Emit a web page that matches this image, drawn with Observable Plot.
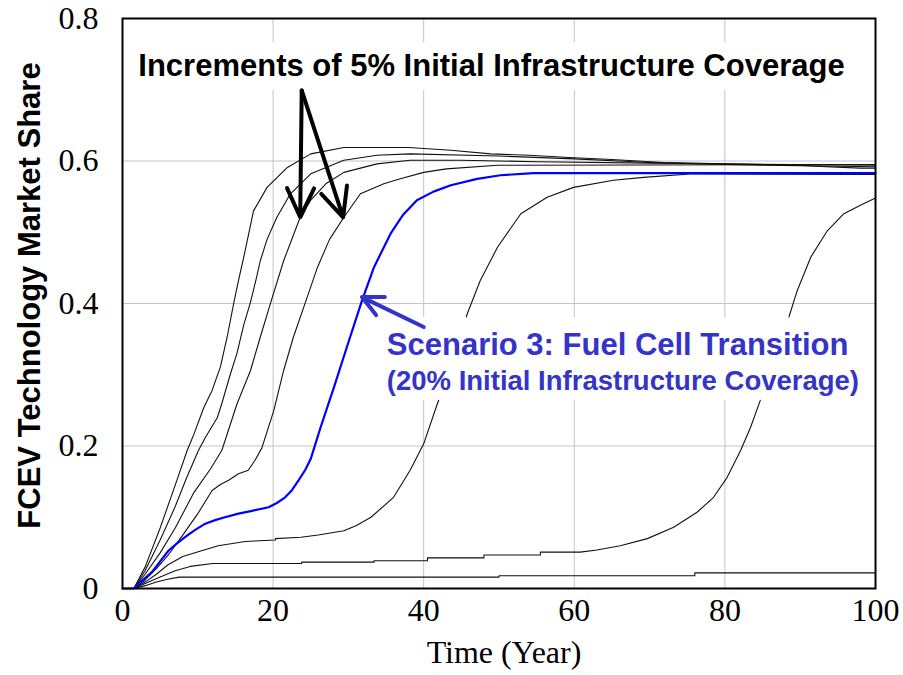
<!DOCTYPE html>
<html><head><meta charset="utf-8">
<script src="https://cdn.jsdelivr.net/npm/d3@7"></script>
<script src="https://cdn.jsdelivr.net/npm/@observablehq/plot@0.6"></script>
<style>
body{margin:0;background:#fff;}
#chart svg{font-family:"Liberation Serif","Times New Roman",serif;}
</style></head><body><div id="chart"></div>
<script>
// Ticks
const xTicks = [0, 20, 40, 60, 80, 100];
const yTicks = [0, 0.2, 0.4, 0.6, 0.8];

// Series: time (year) and FCEV market share, one pair per initial infrastructure coverage
const t05 = [0,1.5,3,4.5,6,7.5,50,50,76,76,100];
const v05 = [0,0,0.004,0.009,0.013,0.016,0.016,0.018,0.018,0.022,0.022];

const t10 = [0,1.5,3,5,7,9,12,23.8,23.8,33.4,33.4,40.5,40.5,48,48,55.5,55.5,60.8,63,66.1,69.7,73.2,76.3,78.5,80.3,82.1,83.4,84.7,86,87.3,88.5,89.6,91.4,93.6,95.8,98,100];
const v10 = [0,0,0.007,0.016,0.025,0.031,0.035,0.035,0.037,0.037,0.039,0.039,0.043,0.043,0.047,0.047,0.051,0.051,0.054,0.06,0.07,0.086,0.107,0.128,0.156,0.194,0.226,0.264,0.305,0.345,0.381,0.418,0.465,0.502,0.526,0.538,0.548];

const t15 = [0,1.5,3,4.5,6,8,10.5,12.7,16.3,20.3,20.3,23.7,26,29.4,31,33,36,38.2,40,41.8,43.3,45.8,47.5,49.8,52.9,56.4,59.9,65.2,69.2,75.8,100];
const v15 = [0,0,0.009,0.02,0.033,0.045,0.053,0.06,0.066,0.068,0.07,0.072,0.075,0.081,0.088,0.1,0.128,0.166,0.203,0.259,0.3,0.386,0.432,0.479,0.526,0.549,0.563,0.573,0.577,0.582,0.581];

const t20 = [0,1.5,2.5,3.9,5,6.1,7.2,8.3,9.6,11,12.3,13.6,15.4,17.2,19.4,20.5,21.6,22.5,23.4,24.3,25,26.3,28.1,29.8,31.8,33.4,35.6,37.3,39.1,41.3,43.6,47.1,50.2,54.6,100];
const v20 = [0,0,0.01,0.023,0.038,0.053,0.063,0.072,0.082,0.091,0.096,0.1,0.105,0.109,0.114,0.12,0.128,0.138,0.152,0.167,0.182,0.226,0.283,0.339,0.404,0.451,0.498,0.525,0.545,0.557,0.566,0.575,0.58,0.583,0.583];

const t25 = [0,1.5,3,4.5,6,8,10,11.9,13,14.1,15.4,16.7,17.6,18.5,20.1,21.4,22.7,24.3,25.9,27.5,29.4,31.6,34.7,36.9,40,43,49.8,100];
const v25 = [0,0,0.012,0.028,0.046,0.075,0.105,0.1375,0.146,0.152,0.161,0.166,0.18,0.197,0.25,0.306,0.353,0.402,0.451,0.49,0.521,0.554,0.568,0.575,0.584,0.589,0.594,0.595];

const t30 = [0,1.5,3,5,7,9.5,11.7,13.2,15.2,17,18.3,19.7,21.4,23.6,25,27,29.4,33.8,38.2,45,55,70,100];
const v30 = [0,0,0.02,0.05,0.085,0.135,0.168,0.194,0.259,0.306,0.353,0.402,0.46,0.521,0.545,0.568,0.584,0.596,0.601,0.601,0.599,0.597,0.594];

const t35 = [0,1.5,3,5,7,8.5,10.1,11,12.6,13.2,14.3,15.2,16.1,17,17.7,18.3,19.2,20.5,22.3,25,29.4,33.8,38.2,50,60,70,80,100];
const v35 = [0,0,0.025,0.068,0.115,0.155,0.194,0.212,0.24,0.26,0.3,0.33,0.37,0.402,0.432,0.46,0.49,0.521,0.554,0.582,0.601,0.608,0.61,0.607,0.603,0.598,0.595,0.592];

const t40 = [0,1.5,3,5,7,8.6,9.5,10.8,11.9,13,13.9,14.8,15.4,16.1,17.4,19.2,21.9,25,29.4,38,43.6,48.9,54,59.3,65,71.9,80.1,89.6,93.4,98,100];
const v40 = [0,0,0.03,0.085,0.145,0.194,0.217,0.254,0.278,0.311,0.353,0.402,0.432,0.465,0.53,0.563,0.591,0.61,0.619,0.619,0.615,0.61,0.608,0.605,0.602,0.598,0.596,0.594,0.592,0.59,0.59];

const blackSeries = [["5%", t05, v05], ["10%", t10, v10], ["15%", t15, v15], ["25%", t25, v25], ["30%", t30, v30], ["35%", t35, v35], ["40%", t40, v40]];
const blueSeries = [["20%", t20, v20]];

function toRows(list) {
  return list.flatMap(([name, ts, vs]) => ts.map((t, i) => ({series: name, t, v: vs[i]})));
}
const blackRows = toRows(blackSeries);
const blueRows = toRows(blueSeries);

// Annotations
const headline = "Increments of 5% Initial Infrastructure Coverage";
const scenarioLine1 = "Scenario 3: Fuel Cell Transition";
const scenarioLine2 = "(20% Initial Infrastructure Coverage)";
const labelBoxes = [
  {x1: 1.1, x2: 97, y1: 0.699, y2: 0.766},
  {x1: 34.0, x2: 98.8, y1: 0.264, y2: 0.380}
];
const blackArrows = [
  {x1: 23.8, y1: 0.699, x2: 23.6, y2: 0.521},
  {x1: 23.8, y1: 0.699, x2: 29.3, y2: 0.521}
];
const blueArrows = [{x1: 40.0, y1: 0.367, x2: 31.8, y2: 0.409}];

const labelBlue = "#3434c8";
const sansBold = "'Liberation Sans', Arial, sans-serif";
const fmt = d => String(d);

const chart = Plot.plot({
  width: 903,
  height: 675,
  marginLeft: 122,
  marginRight: 28,
  marginTop: 18,
  marginBottom: 87,
  style: {fontFamily: "'Liberation Serif', 'Times New Roman', serif", fontSize: "32px", background: "white"},
  x: {domain: [0, 100]},
  y: {domain: [0, 0.8]},
  marks: [
    Plot.gridX(xTicks, {stroke: "#c4c4c4", strokeOpacity: 1, strokeWidth: 1}),
    Plot.gridY(yTicks, {stroke: "#c4c4c4", strokeOpacity: 1, strokeWidth: 1}),
    Plot.line(blackRows, {x: "t", y: "v", z: "series", stroke: "#111", strokeWidth: 1.1}),
    Plot.line(blueRows, {x: "t", y: "v", z: "series", stroke: "#0000ff", strokeWidth: 2.2}),
    Plot.rect(labelBoxes, {x1: "x1", x2: "x2", y1: "y1", y2: "y2", fill: "white"}),
    Plot.text([headline], {x: 2.1, y: 0.733, text: d => d, textAnchor: "start", fontFamily: sansBold, fontWeight: "bold", fontSize: 31, fill: "black"}),
    Plot.text([scenarioLine1], {x: 35.1, y: 0.341, text: d => d, textAnchor: "start", fontFamily: sansBold, fontWeight: "bold", fontSize: 31, fill: labelBlue}),
    Plot.text([scenarioLine2], {x: 35.1, y: 0.2905, text: d => d, textAnchor: "start", fontFamily: sansBold, fontWeight: "bold", fontSize: 27.5, fill: labelBlue}),
    Plot.arrow(blackArrows, {x1: "x1", y1: "y1", x2: "x2", y2: "y2", stroke: "black", strokeWidth: 4, headLength: 12, headAngle: 50}),
    Plot.arrow(blueArrows, {x1: "x1", y1: "y1", x2: "x2", y2: "y2", stroke: labelBlue, strokeWidth: 4, headLength: 12.5, headAngle: 52}),
    Plot.axisX(xTicks, {tickSize: 0, tickPadding: 10, label: null, fontSize: 32, tickFormat: fmt}),
    Plot.axisY(yTicks, {tickSize: 0, tickPadding: 24, label: null, fontSize: 32, tickFormat: fmt}),
    Plot.text(["Time (Year)"], {frameAnchor: "bottom", dy: 64, dx: 5, text: d => d, fontSize: 32, lineAnchor: "middle"}),
    Plot.text(["FCEV Technology Market Share"], {frameAnchor: "left", dx: -92, dy: -8, rotate: -90, text: d => d, textAnchor: "middle", fontFamily: sansBold, fontWeight: "bold", fontSize: 31, lineAnchor: "middle"}),
    Plot.frame({stroke: "black", strokeWidth: 2})
  ]
});
document.getElementById("chart").appendChild(chart);
</script>
</body></html>
